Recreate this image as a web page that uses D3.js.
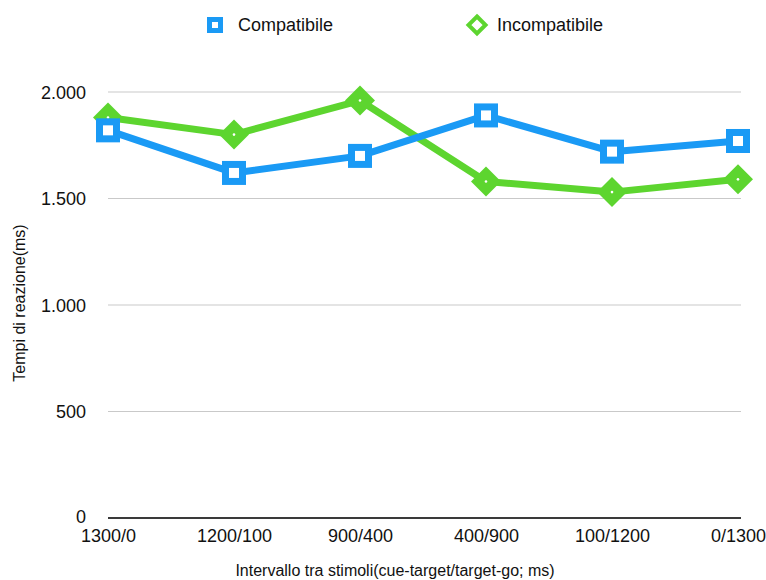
<!DOCTYPE html>
<html>
<head>
<meta charset="utf-8">
<script src="https://cdn.jsdelivr.net/npm/d3@7"></script>
<style>
  body { margin: 0; background: #fff; }
  text { font-family: "Liberation Sans", Arial, Helvetica, sans-serif; fill: #111; }
</style>
</head>
<body>
<div id="chart"></div>
<script>
// valori
const categories = ["1300/0", "1200/100", "900/400", "400/900", "100/1200", "0/1300"];
const compatibile = [1820, 1620, 1700, 1890, 1720, 1770];
const incompatibile = [1880, 1800, 1960, 1580, 1530, 1590];
const yTicks = [0, 500, 1000, 1500, 2000];

const W = 766, H = 580;
const margin = { top: 92, right: 28, bottom: 62, left: 108 };
const width = W - margin.left - margin.right;
const height = H - margin.top - margin.bottom;

const blue = "#1a9af5";
const green = "#5dd52f";

const svg = d3.select("#chart")
  .append("svg")
  .attr("width", W)
  .attr("height", H);

const g = svg.append("g")
  .attr("transform", `translate(${margin.left},${margin.top})`);

const x = d3.scalePoint()
  .domain(categories)
  .range([0, width])
  .padding(0);

const y = d3.scaleLinear()
  .domain([0, 2000])
  .range([height, 0]);

const fmt = d => d3.format(",")(d).replace(/,/g, ".");

// griglia
g.append("g")
  .selectAll("line")
  .data(yTicks.filter(d => d > 0))
  .enter()
  .append("line")
  .attr("x1", 0)
  .attr("x2", width + 3)
  .attr("y1", d => y(d))
  .attr("y2", d => y(d))
  .attr("stroke", "#c9c9c9")
  .attr("stroke-width", 1);

// asse y (solo etichette)
const yAxis = g.append("g")
  .call(d3.axisLeft(y).tickValues(yTicks).tickFormat(fmt).tickSize(0).tickPadding(22));
yAxis.select(".domain").remove();
yAxis.selectAll("text")
  .style("font-size", "18px")
  .attr("dy", d => d === 0 ? "0.25em" : "0.36em");

// asse x
const xAxis = g.append("g")
  .attr("transform", `translate(0,${height})`)
  .call(d3.axisBottom(x).tickSize(0).tickPadding(11));
xAxis.select(".domain").remove();
xAxis.selectAll("text")
  .style("font-size", "18px");

g.append("line")
  .attr("x1", 0)
  .attr("x2", width + 3)
  .attr("y1", height)
  .attr("y2", height)
  .attr("stroke", "#3a3a3a")
  .attr("stroke-width", 2);

const line = d3.line()
  .x((d, i) => x(categories[i]))
  .y(d => y(d));

// Incompatibile
g.append("path")
  .datum(incompatibile)
  .attr("fill", "none")
  .attr("stroke", green)
  .attr("stroke-width", 7)
  .attr("stroke-linejoin", "round")
  .attr("d", line);

// Compatibile
g.append("path")
  .datum(compatibile)
  .attr("fill", "none")
  .attr("stroke", blue)
  .attr("stroke-width", 7)
  .attr("stroke-linejoin", "round")
  .attr("d", line);

const diamond = r => `M0,${-r}L${r},0L0,${r}L${-r},0Z`;

g.selectAll(".inc")
  .data(incompatibile)
  .enter()
  .append("g")
  .attr("class", "inc")
  .attr("transform", (d, i) => `translate(${x(categories[i])},${y(d)})`)
  .each(function() {
    d3.select(this).append("path").attr("d", diamond(15)).attr("fill", green);
    d3.select(this).append("circle").attr("r", 1.3).attr("fill", "#fff");
  });

g.selectAll(".comp")
  .data(compatibile)
  .enter()
  .append("rect")
  .attr("class", "comp")
  .attr("x", (d, i) => x(categories[i]) - 8.5)
  .attr("y", d => y(d) - 8.5)
  .attr("width", 17)
  .attr("height", 17)
  .attr("fill", "#fff")
  .attr("stroke", blue)
  .attr("stroke-width", 7);

// legenda
const leg = svg.append("g").attr("transform", "translate(0,25)");
leg.append("rect")
  .attr("x", 209.5).attr("y", -5.5).attr("width", 11).attr("height", 11)
  .attr("fill", "#fff").attr("stroke", blue).attr("stroke-width", 5);
leg.append("text")
  .attr("x", 238).attr("y", 0).attr("dy", "0.35em")
  .style("font-size", "18px")
  .text("Compatibile");
leg.append("path")
  .attr("transform", "translate(477,0)")
  .attr("d", diamond(8.5))
  .attr("fill", "#fff").attr("stroke", green).attr("stroke-width", 4);
leg.append("text")
  .attr("x", 497).attr("y", 0).attr("dy", "0.35em")
  .style("font-size", "18px")
  .text("Incompatibile");

// titoli assi
svg.append("text")
  .attr("text-anchor", "middle")
  .attr("x", 395)
  .attr("y", 576)
  .style("font-size", "16px")
  .text("Intervallo tra stimoli(cue-target/target-go; ms)");

svg.append("text")
  .attr("text-anchor", "middle")
  .attr("transform", "rotate(-90)")
  .attr("x", -303)
  .attr("y", 25)
  .style("font-size", "16px")
  .text("Tempi di reazione(ms)");
</script>
</body>
</html>
